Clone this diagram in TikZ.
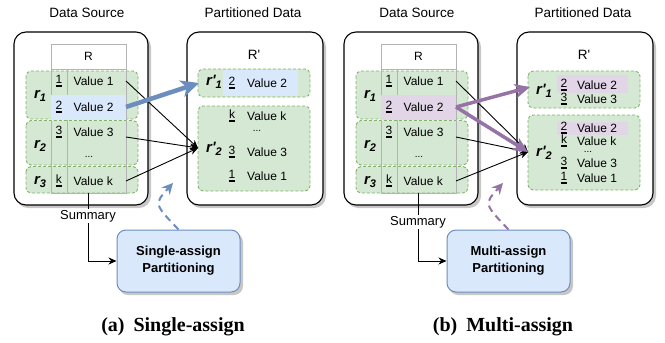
\documentclass[tikz,border=0pt]{standalone}
\usepackage{fontspec}
\newfontfamily\dsans{Liberation Sans}
\newfontfamily\capfont{Liberation Serif}
\usetikzlibrary{arrows.meta}
\definecolor{gfill}{HTML}{D5E8D4}
\definecolor{gline}{HTML}{82B366}
\definecolor{bfill}{HTML}{DAE8FC}
\definecolor{bline}{HTML}{6C8EBF}
\definecolor{pfill}{HTML}{E1D5E7}
\definecolor{pline}{HTML}{9673A6}
\definecolor{tline}{HTML}{B3B3B3}
\newcommand\uln[1]{\setbox0=\hbox{#1}\rlap{\vrule height -1.6pt depth 3.1pt width \wd0}\box0}
\newcommand\rsub[2]{#1\raisebox{-3.5pt}{\fontsize{11}{11}\selectfont #2}}
\tikzset{
  outerbox/.style={draw=black, line width=1.1pt, rounded corners=12pt, fill=white},
  shadowbox/.style={fill=black, opacity=0.22, rounded corners=12pt, draw=none},
  grp/.style={fill=gfill, draw=gline, dash pattern=on 3pt off 2pt, line width=0.9pt, rounded corners=5pt},
  tbl/.style={draw=tline, line width=0.9pt},
  val/.style={font=\dsans\fontsize{12}{13}\selectfont, anchor=west, inner sep=0pt},
  idx/.style={font=\dsans\fontsize{12}{13}\selectfont, inner sep=0pt},
  dots/.style={font=\dsans\fontsize{10}{10}\selectfont, inner sep=0pt},
  title/.style={font=\dsans\fontsize{13.5}{15}\selectfont, inner sep=0pt},
  rlab/.style={font=\dsans\fontsize{15}{16}\selectfont\bfseries\itshape, inner sep=0pt},
  blk/.style={draw=bline, fill=bfill, line width=1pt, rounded corners=9pt, minimum width=123pt, minimum height=62pt, align=center, font=\dsans\fontsize{13}{17}\selectfont\bfseries},
  thinarr/.style={draw=black, line width=0.9pt, -{Stealth[length=8pt,width=7pt]}},
  sumlab/.style={font=\dsans\fontsize{13}{15}\selectfont, fill=white, inner sep=1pt},
  caption/.style={font=\capfont\fontsize{20}{22}\selectfont\bfseries, inner sep=0pt}
}
% source panel: #1 xshift, #2 prefix, #3 highlight colour
\newcommand\drawsource[3]{%
\begin{scope}[xshift=#1]
  \node[title] (#2-dstitle) at (87,13) {Data Source};
  \fill[shadowbox] (16,35) rectangle (151,208);
  \draw[outerbox] (14,32) rectangle (148,205);
  \path[draw=tline, fill=white, line width=0.9pt] (51,44) rectangle (126,69);
  \node[idx] (#2-R) at (88.5,56.5) {R};
  \draw[grp] (26,71) rectangle (138,119);
  \draw[grp] (26,120.5) rectangle (138,165);
  \draw[grp] (26,166.5) rectangle (138,193);
  \draw[tbl] (51,69) rectangle (126,193);
  \draw[tbl] (67,69) -- (67,193);
  \fill[#3] (51,95) rectangle (126,120);
  \node[idx] (#2-i1) at (59,81) {\uln{1}};
  \node[idx] (#2-i2) at (59,107) {\uln{2}};
  \node[idx] (#2-i3) at (59,132) {\uln{3}};
  \node[idx] (#2-ik) at (59,181) {\uln{k}};
  \node[val] (#2-v1) at (73.5,81) {Value 1};
  \node[val] (#2-v2) at (73.5,107) {Value 2};
  \node[val] (#2-v3) at (73.5,132) {Value 3};
  \node[dots] (#2-vd) at (89,157) {...};
  \node[val] (#2-vk) at (73.5,181) {Value k};
  \node[rlab] (#2-r1) at (40,96) {\rsub{r}{1}};
  \node[rlab] (#2-r2) at (40,146) {\rsub{r}{2}};
  \node[rlab] (#2-r3) at (40,182) {\rsub{r}{3}};
  \coordinate (#2-s1) at (126,81);
  \coordinate (#2-s2) at (126,107);
  \coordinate (#2-s3) at (126,137);
  \coordinate (#2-sk) at (126,181);
  \coordinate (#2-tb) at (88,193);
  \node[title] (#2-pttitle) at (253,13) {Partitioned Data};
  \fill[shadowbox] (189,35) rectangle (326,208);
  \draw[outerbox] (187,32) rectangle (323,205);
  \node[idx, font=\dsans\fontsize{13.5}{15}\selectfont] (#2-Rp) at (254,55) {R'};
\end{scope}}
\begin{document}
\begin{tikzpicture}[x=1pt,y=-1pt]
\useasboundingbox (0,0) rectangle (665,343);
%================ (a) =================
\drawsource{0pt}{a}{bfill}
\draw[grp] (198,69) rectangle (310,97);
\fill[bfill] (223,70) rectangle (298,96);
\node[rlab] (a-rp1) at (214,82) {\rsub{r'}{1}};
\node[idx] (a-p1i) at (232,83) {\uln{2}};
\node[val] (a-p1v) at (247,83) {Value 2};
\draw[grp] (198,106) rectangle (310,191);
\node[rlab] (a-rp2) at (214,149) {\rsub{r'}{2}};
\node[idx] (a-p2ki) at (232,116) {\uln{k}};
\node[val] (a-p2kv) at (247,116) {Value k};
\node[dots] (a-p2d) at (257,131) {...};
\node[idx] (a-p23i) at (232,152) {\uln{3}};
\node[val] (a-p23v) at (247,152) {Value 3};
\node[idx] (a-p21i) at (232,176) {\uln{1}};
\node[val] (a-p21v) at (247,176) {Value 1};
\coordinate (a-t1) at (199,83);
\coordinate (a-t2) at (198,148);
\draw[thinarr] (a-s1) -- (a-t2);
\draw[thinarr] (a-s3) -- (a-t2);
\draw[thinarr] (a-sk) -- (a-t2);
\draw[bline, line width=4.5pt, -{Stealth[length=18pt,width=17pt,inset=5pt]}] (a-s2) -- (a-t1);
\fill[black, opacity=0.22, rounded corners=9pt] (119,233) rectangle (243,295);
\node[blk] (a-blk) at (178.5,261) {Single-assign\\Partitioning};
\draw[thinarr] (a-tb) |- (a-blk.west);
\node[sumlab] (a-sum) at (88,216) {Summary};
\coordinate (a-dt) at (173,183);
\draw[bline, line width=2pt, dash pattern=on 7pt off 5pt, -{Stealth[length=11pt,width=11pt]}] (a-blk.north) .. controls (154,204) .. (a-dt);
\node[caption] (a-cap) at (173,327) {(a)\hspace{0.45em}Single-assign};
%================ (b) =================
\drawsource{330pt}{b}{pfill}
\draw[grp] (528,71) rectangle (640,108);
\fill[pfill] (557,75) rectangle (628,93);
\node[rlab] (b-rp1) at (544,91) {\rsub{r'}{1}};
\node[idx] (b-p1ai) at (564,85) {\uln{2}};
\node[val] (b-p1av) at (577,85) {Value 2};
\node[idx] (b-p1bi) at (564,99) {\uln{3}};
\node[val] (b-p1bv) at (577,99) {Value 3};
\draw[grp] (528,115) rectangle (640,190);
\fill[pfill] (557,122) rectangle (628,135);
\node[rlab] (b-rp2) at (544,153) {\rsub{r'}{2}};
\node[idx] (b-p22i) at (564,128) {\uln{2}};
\node[val] (b-p22v) at (577,128) {Value 2};
\node[idx] (b-p2ki) at (564,141) {\uln{k}};
\node[val] (b-p2kv) at (577,141) {Value k};
\node[dots] (b-p2d) at (588,152) {...};
\node[idx] (b-p23i) at (564,163) {\uln{3}};
\node[val] (b-p23v) at (577,163) {Value 3};
\node[idx] (b-p21i) at (564,178) {\uln{1}};
\node[val] (b-p21v) at (577,178) {Value 1};
\coordinate (b-t1) at (530,87);
\coordinate (b-t2) at (528,152);
\draw[thinarr] (b-s1) -- (b-t2);
\draw[thinarr] (b-s3) -- (b-t2);
\draw[thinarr] (b-sk) -- (b-t2);
\draw[pline, line width=3.5pt, -{Stealth[length=15pt,width=14pt,inset=4pt]}] (b-s2) -- (b-t1);
\draw[pline, line width=3.5pt, -{Stealth[length=15pt,width=14pt,inset=4pt]}] (b-s2) -- (b-t2);
\fill[black, opacity=0.22, rounded corners=9pt] (449,233) rectangle (573,295);
\node[blk] (b-blk) at (508.5,261) {Multi-assign\\Partitioning};
\draw[thinarr] (b-tb) |- (b-blk.west);
\node[sumlab] (b-sum) at (418,222) {Summary};
\coordinate (b-dt) at (503,183);
\draw[pline, line width=2pt, dash pattern=on 7pt off 5pt, -{Stealth[length=11pt,width=11pt]}] (b-blk.north) .. controls (484,204) .. (b-dt);
\node[caption] (b-cap) at (503,327) {(b)\hspace{0.45em}Multi-assign};
\end{tikzpicture}
\end{document}
